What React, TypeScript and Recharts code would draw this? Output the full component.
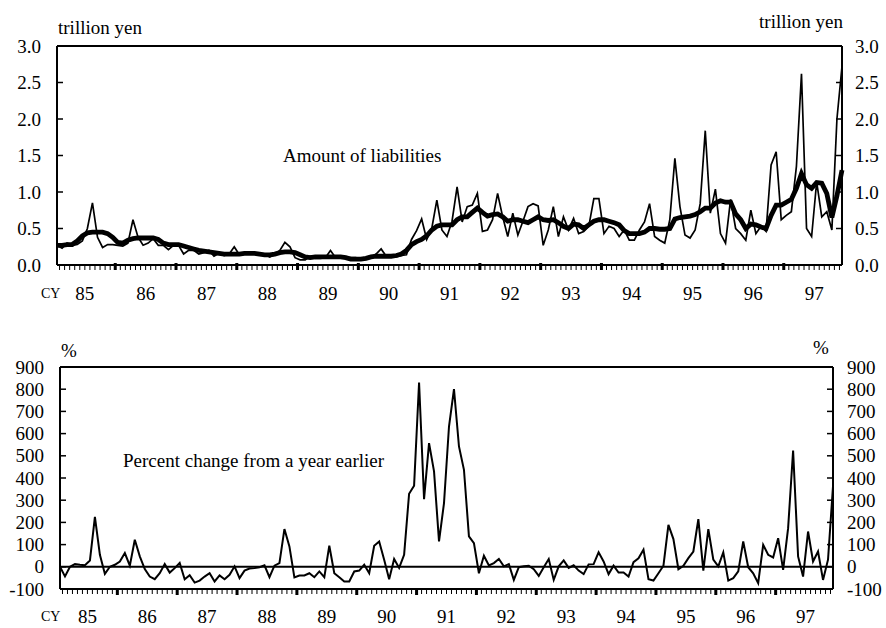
import { Line, LineChart, ReferenceLine, XAxis, YAxis } from "recharts";

const FONT = '"Liberation Serif", "Times New Roman", serif';

// Jan 1985 .. Dec 1997, monthly
const yearLabels = ["85", "86", "87", "88", "89", "90", "91", "92", "93", "94", "95", "96", "97"];

// trillion yen, monthly
const liabilities = [
  0.27, 0.23, 0.3, 0.27, 0.28, 0.33, 0.5, 0.85, 0.38, 0.24, 0.28, 0.28,
  0.27, 0.26, 0.3, 0.62, 0.38, 0.27, 0.3, 0.36, 0.27, 0.27, 0.21, 0.27,
  0.27, 0.15, 0.2, 0.2, 0.15, 0.17, 0.2, 0.12, 0.16, 0.13, 0.15, 0.25,
  0.14, 0.15, 0.16, 0.15, 0.15, 0.15, 0.11, 0.14, 0.2, 0.31, 0.25, 0.1,
  0.07, 0.07, 0.12, 0.09, 0.09, 0.1, 0.2, 0.1, 0.11, 0.1, 0.1, 0.1,
  0.08, 0.08, 0.1, 0.15, 0.22, 0.12, 0.12, 0.11, 0.13, 0.14, 0.35, 0.47,
  0.63, 0.35, 0.5, 0.89, 0.48, 0.39, 0.6, 1.07, 0.59, 0.8, 0.82, 0.98,
  0.46, 0.48, 0.62, 0.98, 0.66, 0.39, 0.71, 0.41, 0.6, 0.8, 0.84, 0.81,
  0.27, 0.48, 0.8, 0.39, 0.66, 0.48, 0.64, 0.43, 0.46, 0.53, 0.91, 0.91,
  0.43, 0.53, 0.5, 0.39, 0.48, 0.34, 0.34, 0.48, 0.59, 0.84, 0.39, 0.34,
  0.3, 0.62, 1.46, 0.8, 0.41, 0.37, 0.48, 0.84, 1.84, 0.71, 1.04, 0.43,
  0.3, 0.9, 0.5, 0.43, 0.34, 0.75, 0.43, 0.53, 0.46, 1.37, 1.55, 0.62,
  0.68, 0.73, 1.35, 2.62, 0.5, 0.39, 1.14, 0.66, 0.73, 0.48, 2.0, 2.72
];

// smoothed (thick line)
const liabilitiesAvg = [
  0.27, 0.27, 0.28, 0.28, 0.33, 0.4, 0.44, 0.45, 0.45, 0.45, 0.43, 0.38,
  0.31, 0.3, 0.34, 0.36, 0.37, 0.37, 0.37, 0.37, 0.35, 0.3, 0.28, 0.28,
  0.28, 0.26, 0.24, 0.22, 0.2, 0.19, 0.18, 0.17, 0.16, 0.15, 0.15, 0.15,
  0.15, 0.16, 0.16, 0.16, 0.15, 0.14, 0.14, 0.15, 0.17, 0.18, 0.18, 0.17,
  0.14, 0.11, 0.1, 0.11, 0.11, 0.11, 0.11, 0.11, 0.11, 0.1, 0.08, 0.08,
  0.08, 0.09, 0.11, 0.12, 0.12, 0.12, 0.12, 0.13, 0.15, 0.2, 0.28, 0.32,
  0.35, 0.4, 0.48, 0.53, 0.55, 0.55, 0.55, 0.62, 0.66, 0.66, 0.72, 0.78,
  0.72, 0.67, 0.69, 0.7, 0.66, 0.6, 0.62, 0.62, 0.6, 0.58, 0.62, 0.66,
  0.62, 0.61, 0.62, 0.58, 0.53, 0.5, 0.56, 0.55, 0.5, 0.55, 0.6, 0.62,
  0.62, 0.6, 0.58, 0.55, 0.47, 0.43, 0.43, 0.43, 0.45, 0.5, 0.5, 0.49,
  0.49, 0.5, 0.63, 0.65, 0.66, 0.67, 0.69, 0.73, 0.78, 0.78, 0.85, 0.88,
  0.86, 0.86, 0.7, 0.62, 0.5, 0.56, 0.55, 0.52, 0.5, 0.68, 0.82, 0.82,
  0.86, 0.9, 1.05, 1.25, 1.1, 1.05, 1.13, 1.12, 0.98, 0.65, 0.95, 1.3
];

// percent change from a year earlier
const pctChange = [
  0, -43, 0, 12, 9, 7, 28, 225, 54, -32, 0, 9,
  24, 62, 5, 122, 47, -10, -44, -56, -29, 12, -26, -6,
  17, -56, -38, -71, -62, -44, -29, -66, -39, -56, -36, 2,
  -51, -17, -8, -6, -2, 7, -47, 5, 17, 170, 92, -48,
  -39, -39, -29, -47, -21, -47, 95, -29, -47, -66, -66, -21,
  -17, 9, -29, 95, 114, 32, -56, 35, -5, 54, 329, 365,
  830, 305, 557, 430, 114, 287, 632, 800, 542, 437, 137, 107,
  -29, 50, 6, 17, 35, 2, 12, -59, -2, 2, 5, -11,
  -41, -2, 35, -59, 2, 29, -5, 7, -17, -33, 11, 12,
  65, 24, -33, 5, -26, -26, -44, 21, 38, 77, -56, -62,
  -29, 5, 189, 125, -11, 5, 39, 69, 215, -17, 170, 32,
  2, 65, -62, -51, -21, 114, -2, -29, -74, 99, 54, 42,
  129, -14, 174, 524, 47, -44, 159, 24, 69, -59, 32, 362
];

const amountTicks = [0, 0.5, 1, 1.5, 2, 2.5, 3];
const pctTicks = [-100, 0, 100, 200, 300, 400, 500, 600, 700, 800, 900];

const data = liabilities.map((v, i) => ({
  m: i,
  amount: v,
  avg: liabilitiesAvg[i],
  pct: pctChange[i]
}));

const last = liabilities.length - 1;
// month boundaries; mid-year boundary carries the year label
const monthTicks = Array.from({ length: last }, (_, i) => i + 0.5);

function makeXTick(labelDy: number, heavy: boolean) {
  return (props: any) => {
    const { x, y, payload } = props;
    const v = payload.value;
    const yearEdge = (v - 11.5) % 12 === 0;
    const idx = (v - 5.5) / 12;
    const label = Number.isInteger(idx) && idx >= 0 && idx < yearLabels.length ? yearLabels[idx] : null;
    return (
      <g>
        {yearEdge ? (
          <rect x={x - 1.5} y={heavy ? y - 2 : y} width={3} height={heavy ? 7 : 6} fill="#000" />
        ) : (
          <line x1={x} x2={x} y1={y} y2={y + 5} stroke="#000" strokeWidth={1} />
        )}
        {label && (
          <text x={x} y={y + labelDy} textAnchor="middle" dominantBaseline="central"
            fontSize={19} fontFamily={FONT} fill="#000">
            {label}
          </text>
        )}
      </g>
    );
  };
}

function makeYTick(side: "left" | "right", fmt: (v: number) => string, gap: number) {
  return (props: any) => {
    const { x, y, payload } = props;
    const dir = side === "left" ? 1 : -1;
    return (
      <g>
        <line x1={x} x2={x + dir * 6} y1={y} y2={y} stroke="#000" strokeWidth={1.5} />
        <text x={x - dir * gap} y={y} textAnchor={side === "left" ? "end" : "start"}
          dominantBaseline="central" fontSize={19} fontFamily={FONT} fill="#000">
          {fmt(payload.value)}
        </text>
      </g>
    );
  };
}

const axisLine = { stroke: "#000", strokeWidth: 2 };
const fmtAmount = (v: number) => v.toFixed(1);
const fmtPct = (v: number) => String(v);

export default function App() {
  return (
    <div style={{ position: "absolute", left: 0, top: 0, width: 886, height: 628, background: "#fff", fontFamily: FONT }}>
      <div style={{ position: "absolute", left: 0, top: 0 }}>
        <LineChart width={886} height={310} data={data} margin={{ top: 46, right: 0, bottom: 0, left: 0 }}>
          <XAxis dataKey="m" type="number" domain={[0, last]} ticks={monthTicks} interval={0}
            height={45} tickSize={0} tickMargin={0} tickLine={false} axisLine={axisLine}
            tick={makeXTick(28, true)} />
          <YAxis yAxisId="left" type="number" domain={[0, 3]} ticks={amountTicks} interval={0}
            allowDataOverflow width={57} tickSize={0} tickMargin={0}
            tickLine={false} axisLine={axisLine} tick={makeYTick("left", fmtAmount, 16)} />
          <YAxis yAxisId="right" type="number" orientation="right" domain={[0, 3]} ticks={amountTicks}
            interval={0} allowDataOverflow width={44}
            tickSize={0} tickMargin={0} tickLine={false} axisLine={axisLine}
            tick={makeYTick("right", fmtAmount, 13)} />
          <ReferenceLine yAxisId="left" y={3} stroke="#000" strokeWidth={2} />
          <Line yAxisId="left" type="linear" dataKey="amount" stroke="#000" strokeWidth={1.7}
            dot={false} isAnimationActive={false} />
          <Line yAxisId="left" type="linear" dataKey="avg" stroke="#000" strokeWidth={4.8}
            dot={false} isAnimationActive={false} />
        </LineChart>
      </div>
      <div style={{ position: "absolute", left: 0, top: 310 }}>
        <LineChart width={886} height={318} data={data} margin={{ top: 57, right: 0, bottom: 0, left: 0 }}>
          <XAxis dataKey="m" type="number" domain={[0, last]} ticks={monthTicks} interval={0}
            height={39} tickSize={0} tickMargin={0} tickLine={false} axisLine={axisLine}
            tick={makeXTick(27, false)} />
          <YAxis yAxisId="left" type="number" domain={[-100, 900]} ticks={pctTicks} interval={0}
            allowDataOverflow width={60} tickSize={0} tickMargin={0}
            tickLine={false} axisLine={axisLine} tick={makeYTick("left", fmtPct, 16)} />
          <YAxis yAxisId="right" type="number" orientation="right" domain={[-100, 900]} ticks={pctTicks}
            interval={0} allowDataOverflow width={53}
            tickSize={0} tickMargin={0} tickLine={false} axisLine={axisLine}
            tick={makeYTick("right", fmtPct, 14)} />
          <ReferenceLine yAxisId="left" y={900} stroke="#000" strokeWidth={2} />
          <ReferenceLine yAxisId="left" y={0} stroke="#000" strokeWidth={2} />
          <Line yAxisId="left" type="linear" dataKey="pct" stroke="#000" strokeWidth={2}
            dot={false} isAnimationActive={false} />
        </LineChart>
      </div>
      <svg width={886} height={628} style={{ position: "absolute", left: 0, top: 0, pointerEvents: "none" }}>
        <g fontFamily={FONT} fill="#000" fontSize={19}>
          <text x={58} y={27} dominantBaseline="central">trillion yen</text>
          <text x={843} y={21} textAnchor="end" dominantBaseline="central">trillion yen</text>
          <text x={283} y={155} dominantBaseline="central">Amount of liabilities</text>
          <text x={61} y={350} dominantBaseline="central">%</text>
          <text x={813} y={347} dominantBaseline="central">%</text>
          <text x={123} y={460} dominantBaseline="central">Percent change from a year earlier</text>
          <text x={41} y={293} dominantBaseline="central" fontSize={14}>CY</text>
          <text x={41} y={616} dominantBaseline="central" fontSize={14}>CY</text>
        </g>
      </svg>
    </div>
  );
}
